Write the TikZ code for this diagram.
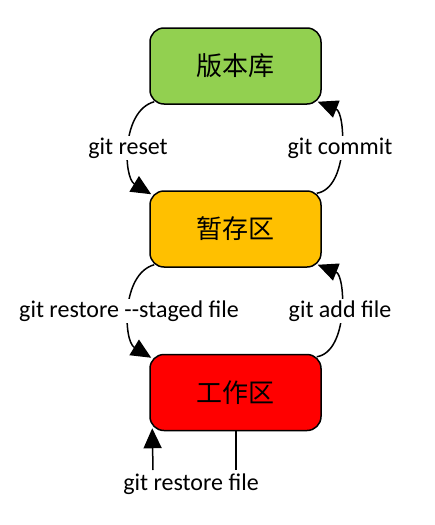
\documentclass[tikz,border=0pt]{standalone}
\usepackage{fontspec}
\setmainfont{Carlito}
\newfontfamily\cjk{Noto Sans CJK SC}
\usetikzlibrary{arrows.meta,calc}
\definecolor{cgreen}{HTML}{92D050}
\definecolor{corange}{HTML}{FFC000}
\definecolor{cred}{HTML}{FF0000}
\begin{document}
\begin{tikzpicture}[x=1pt,y=-1pt,
  areabox/.style={draw=black,line width=1.5pt,rounded corners=14pt,minimum width=171pt,minimum height=76pt,inner sep=0pt,font=\cjk\fontsize{26}{30}\selectfont},
  conn/.style={line width=1.5pt,-{Triangle[length=20pt,width=18pt]}},
  plain/.style={line width=1.5pt},
  lbl/.style={fill=white,inner sep=2pt,font=\fontsize{24}{28}\selectfont}]
\useasboundingbox (0,0) rectangle (435,525);
\node[areabox,fill=cgreen]  (b1) at (235.5,66)  {版本库};
\node[areabox,fill=corange] (b2) at (235.5,229) {暂存区};
\node[areabox,fill=cred]    (b3) at (235.5,392.5) {工作区};
% upper pair
\coordinate (r1s) at ($(b1.south west)+(5,-3)$);
\coordinate (r1e) at ($(b2.north west)+(2,4)$);
\coordinate (c1s) at ($(b2.north east)+(-5,3)$);
\coordinate (c1e) at ($(b1.south east)+(-4,-3)$);
\draw[conn] (r1s) .. controls +(-33,9) and +(-28,-17) .. (r1e);
\draw[conn] (c1s) .. controls +(32,-5) and +(28,11) .. (c1e);
\node[lbl] (lreset) at (128,148) {git reset};
\node[lbl] (lcommit) at (340,148) {git commit};
% lower pair
\coordinate (r2s) at ($(b2.south west)+(5,-3)$);
\coordinate (r2e) at ($(b3.north west)+(2,4)$);
\coordinate (c2s) at ($(b3.north east)+(-5,3)$);
\coordinate (c2e) at ($(b2.south east)+(-4,-3)$);
\draw[conn] (r2s) .. controls +(-33,9) and +(-28,-17) .. (r2e);
\draw[conn] (c2s) .. controls +(32,-5) and +(28,11) .. (c2e);
\node[lbl] (lstaged) at (129,311) {git restore {-}{-}staged file};
\node[lbl] (ladd) at (340,311) {git add file};
% bottom
\coordinate (bl) at (153,470);
\coordinate (br) at (236,470);
\coordinate (btip) at ($(b3.south west)+(3,-3)$);
\draw[conn] (bl) -- (btip);
\draw[plain] (b3.south -| br) -- (br);
\node[font=\fontsize{24}{28}\selectfont,inner sep=2pt] (lrestore) at (191,484) {git restore file};
\end{tikzpicture}
\end{document}
